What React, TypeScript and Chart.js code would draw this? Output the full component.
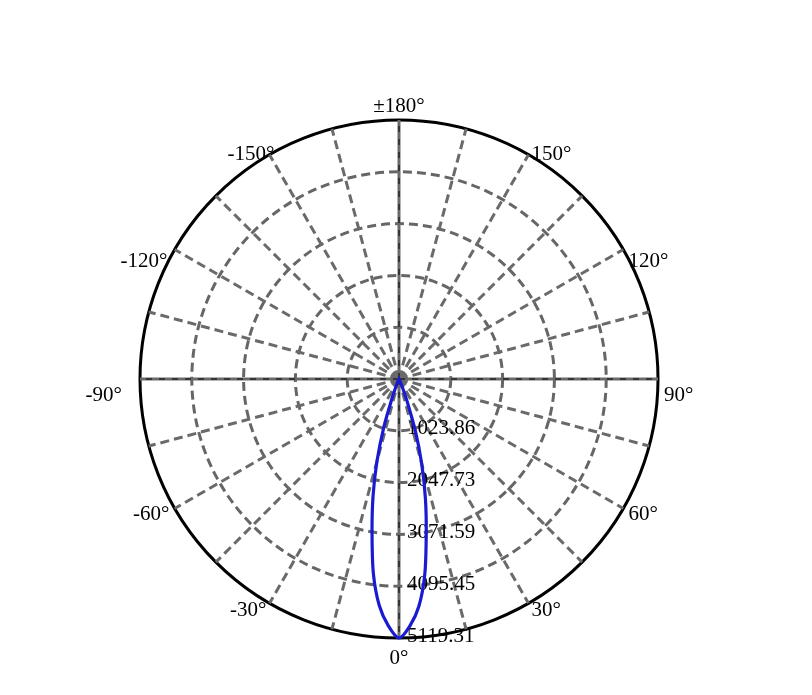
import { useEffect, useRef } from "react";
import Chart from "chart.js/auto";

// angular resolution of the radar categories (degrees)
const ANGLE_STEP = 2.5;
const MAX_CD = 5119.31;

const ringValues = [0, 1023.86, 2047.73, 3071.59, 4095.45, 5119.31];
const ringLabels = ["1023.86", "2047.73", "3071.59", "4095.45", "5119.31"];

// clockwise from the top of the diagram
const angleLabels = [
  "±180°", "150°", "120°", "90°", "60°", "30°",
  "0°", "-30°", "-60°", "-90°", "-120°", "-150°",
];

// measured beam, degrees from 0° (nadir) -> cd
const beamAngles = [
  -30, -27.5, -25, -22.5, -20, -17.5, -15, -12.5, -10, -7.5, -5, -2.5, 0,
  2.5, 5, 7.5, 10, 12.5, 15, 17.5, 20, 22.5, 25, 27.5, 30,
];
const beamValues = [
  0, 8, 40, 130, 380, 1000, 1680, 2370, 3070, 3880, 4490, 4880, 5119.31,
  4890, 4510, 3900, 3100, 2410, 1730, 1080, 460, 170, 50, 10, 0,
];

// category angles, top (180°) going clockwise
const labels = Array.from({ length: 360 / ANGLE_STEP }, (_, i) => 180 - i * ANGLE_STEP);
const intensity = labels.map((a) => {
  const k = beamAngles.indexOf(a);
  return k >= 0 ? beamValues[k] : 0;
});

const LABEL_FONT = "21px 'Liberation Serif', 'Times New Roman', serif";
// small per-label placement tweaks [dx, dy], same order as angleLabels
const LABEL_NUDGE = [
  [0, 3], [0, 0], [0, 10], [0, 11], [0, -2], [0, -3],
  [0, 4], [0, -3], [0, -2], [-12, 11], [-2, 10], [8, 0],
];

const polarText = {
  id: "polarText",
  beforeDatasetsDraw(chart: any) {
    const scale = chart.scales.r;
    const ctx = chart.ctx;
    const per = labels.length / angleLabels.length;
    ctx.save();

    // thin black dashes on the main axes
    ctx.strokeStyle = "#000";
    ctx.lineWidth = 1;
    ctx.setLineDash([6, 7]);
    for (let q = 0; q < 4; q++) {
      const p = scale.getPointPosition(q * per * 3, scale.drawingArea);
      ctx.beginPath();
      ctx.moveTo(scale.xCenter, scale.yCenter);
      ctx.lineTo(p.x, p.y);
      ctx.stroke();
    }
    ctx.setLineDash([]);

    ctx.font = LABEL_FONT;
    ctx.fillStyle = "#000";

    // ring values down the 0° spoke
    const down = labels.indexOf(0);
    ringLabels.forEach((txt, k) => {
      const p = scale.getPointPositionForValue(down, ringValues[k + 1]);
      ctx.textAlign = "left";
      ctx.textBaseline = "middle";
      ctx.fillText(txt, p.x + 8, p.y - 2);
    });

    // angle labels round the rim
    angleLabels.forEach((txt, k) => {
      const idx = k * per;
      const a = scale.getIndexAngle(idx);
      const s = Math.sin(a);
      const c = Math.cos(a);
      const p = scale.getPointPosition(idx, scale.drawingArea + 6);
      const [dx, dy] = LABEL_NUDGE[k];
      if (Math.abs(s) < 0.01) {
        ctx.textAlign = "center";
        ctx.textBaseline = c > 0 ? "bottom" : "top";
        ctx.fillText(txt, p.x + dx, p.y + dy);
      } else {
        ctx.textAlign = s > 0 ? "left" : "right";
        ctx.textBaseline = "middle";
        ctx.fillText(txt, p.x + dx, p.y + 5 + dy);
      }
    });
    ctx.restore();
  },
};

export default function App() {
  const canvasRef = useRef<HTMLCanvasElement | null>(null);

  useEffect(() => {
    if (!canvasRef.current) return;
    const last = ringValues.length - 1;

    const chart = new Chart(canvasRef.current, {
      type: "radar",
      data: {
        labels,
        datasets: [
          {
            data: intensity,
            borderColor: "#1a1ad2",
            borderWidth: 3.2,
            pointRadius: 0,
            fill: false,
            tension: 0.3,
          },
        ],
      },
      options: {
        responsive: true,
        maintainAspectRatio: false,
        animation: false,
        layout: {
          padding: { left: 0, right: 14, top: 120, bottom: 57 },
        },
        plugins: {
          legend: { display: false },
          tooltip: { enabled: false },
        },
        scales: {
          r: {
            min: 0,
            max: MAX_CD,
            startAngle: 0,
            afterBuildTicks: (scale: any) => {
              scale.ticks = ringValues.map((value) => ({ value }));
            },
            ticks: { display: false },
            pointLabels: { display: false },
            grid: {
              circular: true,
              color: (c: any) => (c.index === last ? "#000" : "#666"),
              lineWidth: 3,
            },
            border: {
              dash: (c: any) => (c.index === last ? [] : [9, 5]),
            },
            angleLines: {
              color: (c: any) => (c.index % 6 === 0 ? "#6a6a6a" : "rgba(0,0,0,0)"),
              lineWidth: (c: any) => (c.index % 6 === 0 ? 3 : 0),
              borderDash: (c: any) => (c.index % 36 === 0 ? [] : [9, 5]),
            },
          },
        },
      },
      plugins: [polarText],
    });

    return () => chart.destroy();
  }, []);

  return (
    <div style={{ position: "fixed", left: 0, top: 0, width: 812, height: 695, background: "#fff" }}>
      <canvas ref={canvasRef}></canvas>
    </div>
  );
}
